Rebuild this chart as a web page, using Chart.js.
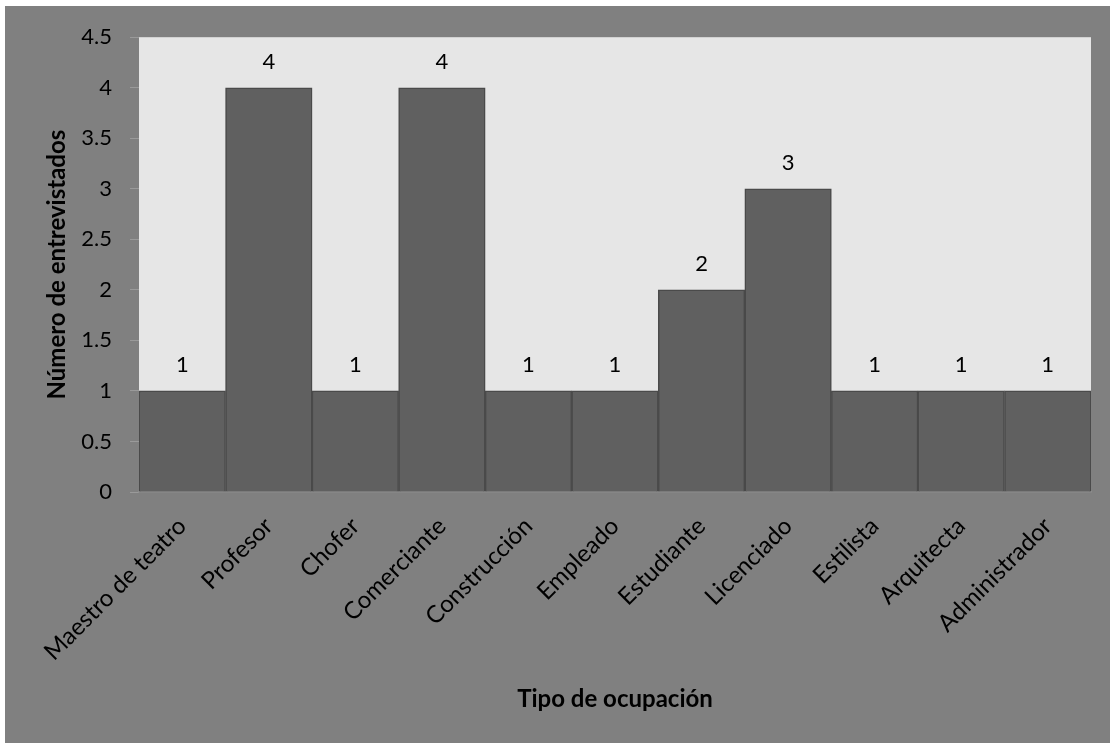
<!DOCTYPE html>
<html>
<head>
<meta charset="utf-8">
<script src="https://cdn.jsdelivr.net/npm/chart.js@4.4.0/dist/chart.umd.min.js"></script>
<style>
    html, body { margin: 0; padding: 0; background: #ffffff; }
    #wrap { position: absolute; left: 5px; top: 6px; width: 1105px; height: 737px; background: #808080; }
</style>
</head>
<body>
<div id="wrap"><canvas id="chart"></canvas></div>
<script>
// Datos del gráfico
const ocupaciones = ['Maestro de teatro', 'Profesor', 'Chofer', 'Comerciante', 'Construcción',
    'Empleado', 'Estudiante', 'Licenciado', 'Estilista', 'Arquitecta', 'Administrador'];
const entrevistados = [1, 4, 1, 4, 1, 1, 2, 3, 1, 1, 1];
const yTicks = [0, 0.5, 1, 1.5, 2, 2.5, 3, 3.5, 4, 4.5];

const FONT = 'Lato, "Open Sans", sans-serif';

// Fondo del área de trazado
const plotBackground = {
    id: 'plotBackground',
    beforeDraw(chart) {
        const { ctx, chartArea } = chart;
        ctx.save();
        ctx.fillStyle = '#e6e6e6';
        ctx.fillRect(chartArea.left, chartArea.top, chartArea.right - chartArea.left, chartArea.bottom - chartArea.top);
        ctx.restore();
    }
};

// Etiquetas de valor encima de las barras
const valueLabels = {
    id: 'valueLabels',
    afterDatasetsDraw(chart) {
        const { ctx } = chart;
        const meta = chart.getDatasetMeta(0);
        ctx.save();
        ctx.font = '22px ' + FONT;
        ctx.fillStyle = '#000000';
        ctx.textAlign = 'center';
        ctx.textBaseline = 'middle';
        meta.data.forEach((bar, i) => {
            ctx.fillText(String(entrevistados[i]), bar.x, bar.y - 26);
        });
        ctx.restore();
    }
};

const ctx = document.getElementById('chart').getContext('2d');
new Chart(ctx, {
    type: 'bar',
    data: {
        labels: ocupaciones,
        datasets: [{
            data: entrevistados,
            backgroundColor: '#606060',
            borderColor: '#4a4a4a',
            borderWidth: 1.5,
            categoryPercentage: 1,
            barPercentage: 1
        }]
    },
    options: {
        responsive: true,
        maintainAspectRatio: false,
        animation: false,
        layout: { padding: { left: 0, top: 30, right: 19, bottom: 0 } },
        scales: {
            x: {
                grid: { display: false },
                border: { display: true, color: '#8c8c8c', width: 1.5 },
                ticks: {
                    color: '#000000',
                    font: { family: FONT, size: 24 },
                    minRotation: 45,
                    maxRotation: 45,
                    autoSkip: false,
                    padding: 12
                },
                title: {
                    display: true,
                    text: 'Tipo de ocupación',
                    color: '#000000',
                    font: { family: FONT, size: 24, weight: 'bold' },
                    padding: { top: 0, bottom: 29 }
                },
                afterFit(scale) { scale.height = 251; }
            },
            y: {
                min: 0,
                max: 4.5,
                afterBuildTicks(scale) { scale.ticks = yTicks.map(v => ({ value: v })); },
                grid: { drawOnChartArea: false, drawTicks: true, tickLength: 9, tickColor: '#9a9a9a' },
                border: { display: false },
                ticks: {
                    color: '#000000',
                    font: { family: FONT, size: 22 },
                    padding: 18,
                    callback: (v) => String(v)
                },
                title: {
                    display: true,
                    text: 'Número de entrevistados',
                    color: '#000000',
                    font: { family: FONT, size: 24, weight: 'bold' },
                    padding: { top: 38, bottom: 0 }
                },
                afterFit(scale) { scale.width = 134; }
            }
        },
        plugins: {
            legend: { display: false },
            tooltip: { enabled: false }
        }
    },
    plugins: [plotBackground, valueLabels]
});
</script>
</body>
</html>
